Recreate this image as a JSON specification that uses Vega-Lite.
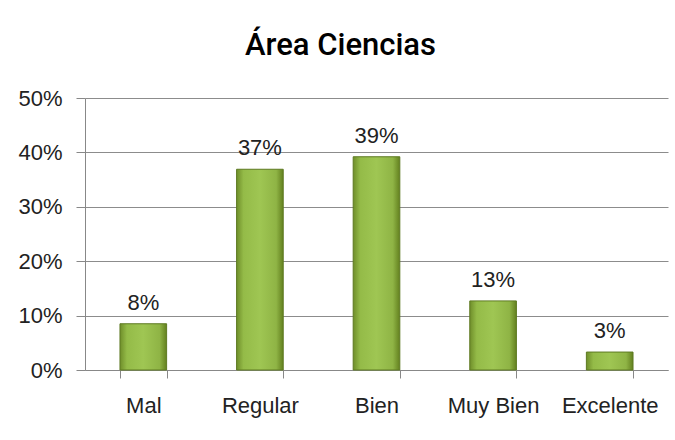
{
  "$schema": "https://vega.github.io/schema/vega-lite/v6.json",
  "autosize": "none",
  "width": 583,
  "height": 272,
  "padding": {"left": 85, "top": 98, "right": 7, "bottom": 70},
  "background": "white",
  "title": {
    "text": "Área Ciencias",
    "font": "Roboto",
    "fontSize": 31,
    "fontWeight": 500,
    "color": "#000000",
    "anchor": "middle",
    "dx": -36,
    "offset": 25
  },
  "data": {
    "values": [
      {"categoria": "Mal", "valor": 0.085, "etiqueta": "8%"},
      {"categoria": "Regular", "valor": 0.369, "etiqueta": "37%"},
      {"categoria": "Bien", "valor": 0.392, "etiqueta": "39%"},
      {"categoria": "Muy Bien", "valor": 0.127, "etiqueta": "13%"},
      {"categoria": "Excelente", "valor": 0.033, "etiqueta": "3%"}
    ]
  },
  "encoding": {
    "x": {
      "field": "categoria",
      "type": "nominal",
      "sort": null,
      "scale": {"paddingInner": 0.6, "paddingOuter": 0.3},
      "axis": {
        "title": null,
        "labelAngle": 0,
        "labelFont": "Liberation Sans",
        "labelFontSize": 22,
        "labelColor": "#222222",
        "labelPadding": 17,
        "labelOverlap": false,
        "domainColor": "#888888",
        "tickColor": "#888888",
        "tickSize": 8,
        "tickBand": "extent",
        "grid": false
      }
    },
    "y": {
      "field": "valor",
      "type": "quantitative",
      "scale": {"domain": [0, 0.5], "nice": false},
      "axis": {
        "title": null,
        "format": ".0%",
        "values": [0, 0.1, 0.2, 0.3, 0.4, 0.5],
        "labelOverlap": false,
        "labelFont": "Liberation Sans",
        "labelFontSize": 22,
        "labelColor": "#222222",
        "labelPadding": 14,
        "domainColor": "#888888",
        "tickColor": "#888888",
        "tickSize": 9,
        "gridColor": "#8c8c8c",
        "gridWidth": 1
      }
    }
  },
  "layer": [
    {
      "mark": {
        "type": "bar",
        "stroke": "#5e7a22",
        "strokeWidth": 1,
        "color": {
          "gradient": "linear",
          "x1": 0, "y1": 0, "x2": 1, "y2": 0,
          "stops": [
            {"offset": 0, "color": "#6f8e2a"},
            {"offset": 0.15, "color": "#94bb48"},
            {"offset": 0.5, "color": "#9fc653"},
            {"offset": 0.85, "color": "#8fb445"},
            {"offset": 1, "color": "#63801f"}
          ]
        }
      }
    },
    {
      "mark": {
        "type": "text",
        "baseline": "bottom",
        "dy": -9,
        "font": "Liberation Sans",
        "fontSize": 22,
        "color": "#222222"
      },
      "encoding": {"text": {"field": "etiqueta"}}
    }
  ],
  "config": {"view": {"stroke": null}}
}
